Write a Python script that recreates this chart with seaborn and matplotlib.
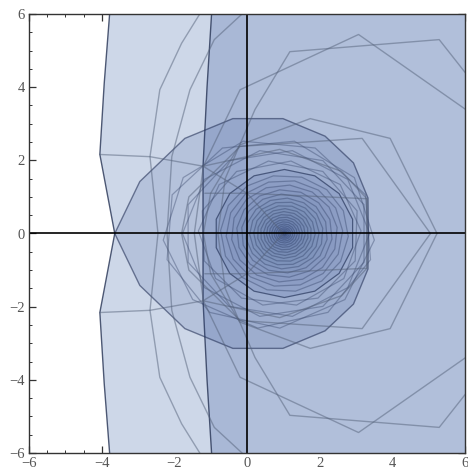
import numpy as np
import pandas as pd
import seaborn as sns
import matplotlib
matplotlib.use("Agg")
import matplotlib.pyplot as plt
from matplotlib.patches import Polygon, RegularPolygon
from matplotlib.transforms import Affine2D

# region boundaries (upper half; lower half is the mirror image)
light_edge = [(-3.75, 6.4), (-3.93, 4.1), (-4.05, 2.16), (-3.64, 0.0)]
medium_edge = [(-0.95, 6.4), (-1.1, 4.0), (-1.21, 1.84), (-1.21, 0.0)]

# big filled disk, upper half from left to right
disk_x = [-3.64, -2.95, -1.71, -0.39, 0.99, 2.15, 2.93, 3.33, 3.34]
disk_y = [0.0, 1.42, 2.6, 3.14, 3.14, 2.66, 1.93, 0.97, 0.0]

# outline polygons, upper halves
outline_polys = {
    "peak": [(8.0, 0.0), (7.3, 2.5), (3.07, 5.44), (-0.19, 3.93), (-1.2, 1.84), (-1.45, 0.0)],
    "wide": [(7.5, 0.0), (6.8, 3.4), (5.29, 5.3), (1.18, 4.97), (0.22, 3.39), (-0.6, 1.5), (-0.8, 0.0)],
    "oct1": [(5.23, 0.0), (3.94, 2.6), (1.74, 3.14), (-0.2, 2.42), (-1.0, 1.1), (-1.2, 0.0)],
    "oct2": [(5.05, 0.0), (3.17, 2.6), (-0.19, 2.38), (-1.6, 1.0), (-1.8, 0.0)],
}
# open curves in the left part, upper halves
left_curves = {
    "c1": [(-1.05, 6.4), (-1.8, 5.2), (-2.4, 3.93), (-2.67, 2.1), (-2.45, 0.0)],
    "c2": [(0.3, 6.4), (-0.9, 5.3), (-1.57, 3.93), (-2.07, 2.1), (-2.2, 0.0)],
    "h1": [(-4.05, 2.16), (-2.67, 2.1), (-1.21, 1.84), (0.0, 1.1), (1.0, 0.0)],
    "h2": [(-1.16, 1.1), (0.0, 1.1), (3.3, 0.95)],
    "h3": [(-1.2, 1.84), (0.9, 2.3), (2.6, 1.7), (3.3, 0.95)],
}

# middle polygons (radius, turn in degrees), each drawn with its mirror image
mid_center = [0.6, 0.8, 0.9]
mid_radius = [2.6, 2.3, 2.0]
mid_turn = [14, 30, 8]

# inner rings around the fixed point
ring_center = (1.03, 0.0)
ring_radius = [1.75, 1.6, 1.46, 1.33, 1.2, 1.08, 0.97, 0.87, 0.77, 0.68, 0.6,
               0.52, 0.45, 0.38, 0.32, 0.26, 0.21, 0.16, 0.12, 0.08, 0.05, 0.03]
ring_turn = [0, 10, -10, 20, -20, 30, -30, 40, -40, 50, -50, 60, -60, 70, -70,
             80, -80, 90, -90, 100, -100, 110]


def mirror(pts):
    pts = np.array(pts)
    low = pts[::-1].copy()
    low[:, 1] *= -1
    return np.vstack([pts, low])


sns.set_style("white")
fig = plt.figure(figsize=(4.68, 4.69), dpi=100)
ax = fig.add_axes([29 / 468, 16 / 469, 436 / 468, 439 / 469])

far = 12
line_dark = (0.15, 0.2, 0.33, 0.8)

lt = mirror(light_edge)
lt = np.vstack([lt, [(far, -far), (far, far)]])
ax.add_patch(Polygon(lt, closed=True, facecolor="#cdd7e8", edgecolor=line_dark, lw=1))
md = mirror(medium_edge)
md = np.vstack([md, [(far, -far), (far, far)]])
ax.add_patch(Polygon(md, closed=True, facecolor="#a9b8d6", edgecolor=line_dark, lw=1))
ax.add_patch(Polygon([(0, -far), (0, far), (far, far), (far, -far)], closed=True,
                     facecolor="#b1bfda", edgecolor="none"))

# outline polygons
rows = []
for name, pts in outline_polys.items():
    p = mirror(pts)
    p = np.vstack([p, p[:1]])
    for x, y in p:
        rows.append((name, x, y))
for name, pts in left_curves.items():
    p = mirror(pts)
    for x, y in p:
        rows.append((name, x, y))
df = pd.DataFrame(rows, columns=["poly", "x", "y"])
sns.lineplot(data=df, x="x", y="y", units="poly", estimator=None, sort=False,
             color="#55627a", alpha=0.5, lw=1, ax=ax)

# big disk
dk = mirror(list(zip(disk_x, disk_y)))
ax.add_patch(Polygon(dk, closed=True, facecolor=(0.16, 0.27, 0.55, 0.14),
                     edgecolor=(0.15, 0.2, 0.35, 0.6), lw=1))

for cx, r, t in zip(mid_center, mid_radius, mid_turn):
    for s in (1, -1):
        mp = RegularPolygon((0, 0), numVertices=9, radius=r, orientation=np.radians(s * t),
                            facecolor="none", edgecolor=(0.2, 0.26, 0.4, 0.38), lw=0.9)
        mp.set_transform(Affine2D().scale(1.12, 1.0).translate(cx, 0) + ax.transData)
        ax.add_patch(mp)

# rings
for i, (r, t) in enumerate(zip(ring_radius, ring_turn)):
    strong = i == 0
    rp = RegularPolygon((0, 0), numVertices=14, radius=r, orientation=np.radians(t),
                        facecolor=(0.16, 0.27, 0.55, 0.09 if strong else 0.025),
                        edgecolor=(0.12, 0.18, 0.33, 0.65 if strong else 0.33), lw=0.9)
    rp.set_transform(Affine2D().scale(1.1, 1.0).translate(*ring_center) + ax.transData)
    ax.add_patch(rp)

ax.axhline(0, color="black", lw=1.2)
ax.axvline(0, color="black", lw=1.2)

ax.set_xlim(-6, 6)
ax.set_ylim(-6, 6)
ax.set_xticks(np.arange(-6, 7, 2))
ax.set_yticks(np.arange(-6, 7, 2))
ax.set_xticks(np.arange(-6, 6.1, 0.5), minor=True)
ax.set_yticks(np.arange(-6, 6.1, 0.5), minor=True)
ax.set_xticklabels(["\u22126", "\u22124", "\u22122", "0", "2", "4", "6"])
ax.set_yticklabels(["\u22126", "\u22124", "\u22122", "0", "2", "4", "6"])
ax.tick_params(which="both", direction="in", bottom=True, left=True, top=True, right=True,
               color="#333333")
ax.tick_params(which="major", length=5, width=0.9, labelsize=10.5, labelcolor="#555555", pad=3)
ax.tick_params(which="minor", length=2.5, width=0.7)
for lab in ax.get_xticklabels() + ax.get_yticklabels():
    lab.set_family("Liberation Serif")
for s in ax.spines.values():
    s.set_color("#333333")
    s.set_linewidth(1)
ax.set_xlabel("")
ax.set_ylabel("")

fig.savefig("out.png", dpi=100)
